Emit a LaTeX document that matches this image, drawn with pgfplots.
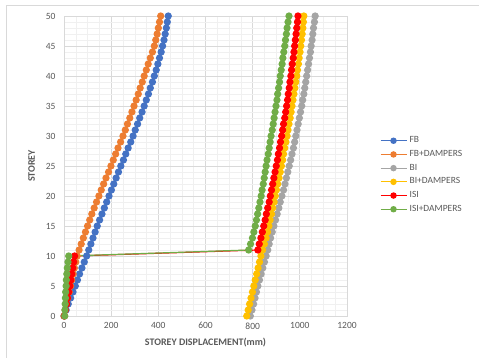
\documentclass[border=0pt]{standalone}
\usepackage{pgfplots}
\pgfplotsset{compat=1.18}
\usepackage{pgfplotstable}
\usepackage{fontspec}
\setmainfont{Carlito}

\definecolor{cFB}{HTML}{4472C4}
\definecolor{cFBD}{HTML}{ED7D31}
\definecolor{cBI}{HTML}{A5A5A5}
\definecolor{cBID}{HTML}{FFC000}
\definecolor{cISI}{HTML}{FF0000}
\definecolor{cISID}{HTML}{70AD47}
\definecolor{txt}{HTML}{595959}
\definecolor{gmaj}{HTML}{D9D9D9}
\definecolor{gmin}{HTML}{F0F0F0}

% storey displacement (mm) for each model
\pgfplotstableread{
storey FB FBD BI BID ISI ISID
0 0 0 790 775 2 3
1 9 5 797 781 6 4
2 18 10 804 787 11 5
3 28 16 810 793 15 6
4 38 22 816 799 20 7
5 48 28 822 805 25 9
6 57 33 829 811 29 10
7 66 39 836 817 33 12
8 76 44 843 823 37 14
9 86 50 850 829 41 17
10 96 56 857 835 45 20
11 105 64 864 842 822 783
12 114 73 870 850 828 791
13 123 82 876 857 835 799
14 132 91 883 863 841 805
15 141 100 890 869 847 811
16 151 109 897 874 853 816
17 161 118 904 880 858 821
18 171 128 911 885 864 826
19 181 138 917 891 870 831
20 191 148 924 896 875 836
21 201 158 931 901 880 840
22 211 168 937 906 885 845
23 221 178 943 912 890 849
24 231 189 949 917 895 853
25 241 199 955 922 900 857
26 252 209 961 927 905 861
27 262 219 967 931 909 866
28 272 229 973 936 914 870
29 283 240 978 941 918 874
30 293 250 983 946 923 878
31 302 260 988 950 927 883
32 312 269 993 954 931 887
33 321 279 998 959 936 891
34 331 288 1003 963 940 895
35 340 297 1008 967 944 899
36 349 306 1012 971 948 903
37 358 315 1017 975 951 906
38 366 323 1021 979 955 910
39 375 332 1025 983 958 914
40 383 340 1029 987 962 917
41 391 349 1033 990 965 921
42 398 357 1037 994 968 925
43 405 366 1041 997 972 928
44 412 375 1045 1001 975 932
45 418 383 1048 1004 978 936
46 424 389 1052 1007 981 939
47 429 395 1055 1010 984 943
48 434 400 1058 1013 987 946
49 438 405 1062 1015 990 950
50 442 410 1065 1017 992 954
}\disp

\begin{document}
\begin{tikzpicture}[x=1pt,y=1pt]
\useasboundingbox (0,0) rectangle (479,358);
% chart-area frame
\draw[gmaj,line width=0.8pt] (6,0) -- (6,353) -- (479,353);
\begin{axis}[
  at={(64pt,42pt)}, anchor=south west,
  scale only axis, width=283pt, height=300pt,
  xmin=0, xmax=1200, ymin=0, ymax=50,
  xtick={0,200,...,1200}, ytick={0,5,...,50},
  minor x tick num=3, minor y tick num=4,
  grid=both,
  major grid style={gmaj,line width=0.7pt},
  minor grid style={gmin,line width=0.5pt},
  axis line style={gmaj,line width=0.7pt},
  major tick length=0pt, minor tick length=0pt,
  tick label style={font=\fontsize{9.5}{11}\selectfont, text=txt},
  /pgf/number format/assume math mode=true,
  /pgf/number format/1000 sep={},
  xticklabel style={yshift=-3pt},
  yticklabel style={xshift=-5pt},
  xlabel={STOREY DISPLACEMENT(mm)},
  ylabel={STOREY},
  label style={font=\fontsize{10}{12}\selectfont\bfseries, text=txt},
  xlabel style={at={(axis description cs:0.5,-0.087)}, anchor=center},
  ylabel style={at={(axis description cs:-0.114,0.5)}, anchor=center},
  legend style={at={(1.105,0.47)}, anchor=west, draw=none, fill=none,
    font=\fontsize{9.5}{11}\selectfont, text=txt,
    row sep=4.7pt, column sep=2.5pt,
    nodes={inner sep=0pt, text height=6.5pt, text depth=2.5pt}},
  legend cell align=left,
  legend image code/.code={\draw[mark repeat=2,mark phase=2,#1,mark size=2.6pt] plot coordinates {(0pt,0pt) (13pt,0pt) (26pt,0pt)};},
  every axis plot/.append style={line width=1.2pt, mark=*, mark size=3pt},
]
\addplot[cFB, mark options={fill=cFB}] table[x=FB, y=storey] {\disp};
\addlegendentry{FB}
\addplot[cFBD, mark options={fill=cFBD}] table[x=FBD, y=storey] {\disp};
\addlegendentry{FB+DAMPERS}
\addplot[cBI, mark options={fill=cBI}] table[x=BI, y=storey] {\disp};
\addlegendentry{BI}
\addplot[cBID, mark options={fill=cBID}] table[x=BID, y=storey] {\disp};
\addlegendentry{BI+DAMPERS}
\addplot[cISI, mark options={fill=cISI}] table[x=ISI, y=storey] {\disp};
\addlegendentry{ISI}
\addplot[cISID, mark options={fill=cISID}] table[x=ISID, y=storey] {\disp};
\addlegendentry{ISI+DAMPERS}
\end{axis}
\end{tikzpicture}
\end{document}
